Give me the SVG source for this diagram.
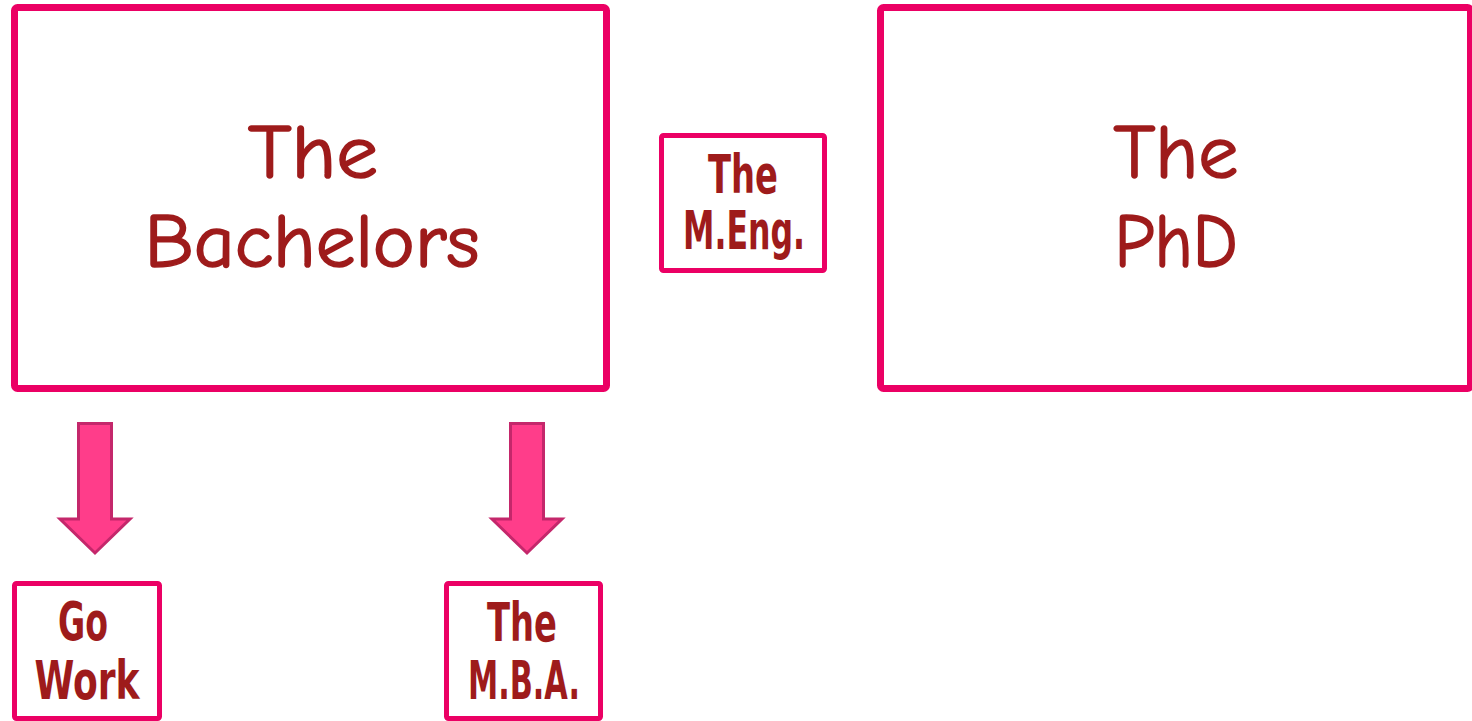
<svg xmlns="http://www.w3.org/2000/svg" width="1472" height="721" viewBox="0 0 1472 721">
<style>
.box{fill:#fff;stroke:#EB0064;stroke-linejoin:round}
.big{stroke-width:7}
.small{stroke-width:5}
.hand{font-family:"Comic Neue","DejaVu Sans","Noto Sans",sans-serif;font-weight:normal;font-size:76px;fill:#9E1B1B;stroke:#9E1B1B;stroke-width:1.6;stroke-linejoin:round;text-anchor:middle}
.bold{font-family:"Liberation Sans Narrow","DejaVu Sans Condensed","Liberation Sans",sans-serif;font-weight:bold;font-size:53px;fill:#9E1B1B;text-anchor:middle}
.arrow{fill:#FF3D8A;stroke:#C4276B;stroke-width:3;stroke-linejoin:miter}
</style>
<rect width="1472" height="721" fill="#fff"/>
<g id="bachelors">
<rect class="box big" x="14.5" y="7.5" width="592" height="381" rx="3"/>
<text class="hand" x="313" y="178" textLength="130" lengthAdjust="spacingAndGlyphs">The</text>
<text class="hand" x="312" y="267" textLength="335" lengthAdjust="spacingAndGlyphs">Bachelors</text>
</g>
<g id="phd">
<rect class="box big" x="880.5" y="7.5" width="590" height="381" rx="3"/>
<text class="hand" x="1176" y="178" textLength="125" lengthAdjust="spacingAndGlyphs">The</text>
<text class="hand" x="1176" y="267" textLength="123" lengthAdjust="spacingAndGlyphs">PhD</text>
</g>
<g id="meng">
<rect class="box small" x="661.5" y="135.5" width="163" height="135" rx="2"/>
<text class="bold" x="743" y="193" textLength="70" lengthAdjust="spacingAndGlyphs">The</text>
<text class="bold" x="744" y="249" textLength="122" lengthAdjust="spacingAndGlyphs">M.Eng.</text>
</g>
<g id="gowork">
<rect class="box small" x="14.5" y="583.5" width="145" height="135" rx="2"/>
<text class="bold" x="83" y="640" textLength="50" lengthAdjust="spacingAndGlyphs">Go</text>
<text class="bold" x="87" y="699" textLength="105" lengthAdjust="spacingAndGlyphs">Work</text>
</g>
<g id="mba">
<rect class="box small" x="446.5" y="583.5" width="154" height="135" rx="2"/>
<text class="bold" x="522" y="641" textLength="70" lengthAdjust="spacingAndGlyphs">The</text>
<text class="bold" x="524" y="699" textLength="112" lengthAdjust="spacingAndGlyphs">M.B.A.</text>
</g>
<g id="connectors">
<polygon class="arrow" points="78.5,423.5 111.5,423.5 111.5,519 130,519 95,553 60,519 78.5,519"/>
<polygon class="arrow" points="510.5,423.5 543.5,423.5 543.5,519 562,519 527,553 492,519 510.5,519"/>
</g>
</svg>
